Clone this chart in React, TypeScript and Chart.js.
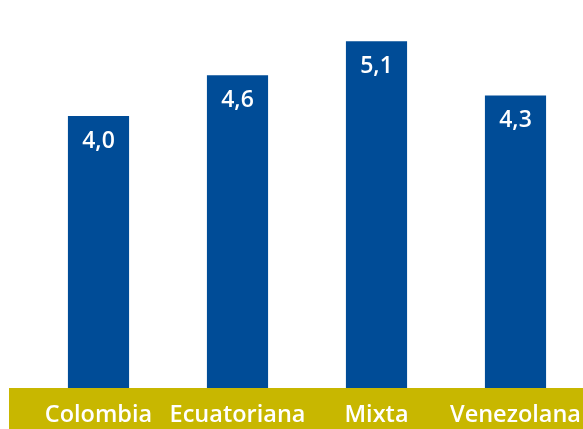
import { useEffect, useRef } from "react";
import { Chart, registerables } from "chart.js";

Chart.register(...registerables);

const categories = ["Colombia", "Ecuatoriana", "Mixta", "Venezolana"];
const values = [4.0, 4.6, 5.1, 4.3];

const BLUE = "#004c97";
const BAND = "#c8b700";

// franja amarilla detrás de las etiquetas del eje x
const bandPlugin = {
  id: "band",
  beforeDraw(chart: Chart) {
    const { ctx, chartArea, width, height } = chart;
    ctx.save();
    ctx.fillStyle = BAND;
    ctx.fillRect(9, chartArea.bottom, width - 9, height - chartArea.bottom);
    ctx.restore();
  },
};

// valores en blanco dentro de cada barra
const valuePlugin = {
  id: "values",
  afterDatasetsDraw(chart: Chart) {
    const { ctx } = chart;
    const meta = chart.getDatasetMeta(0);
    ctx.save();
    ctx.fillStyle = "#ffffff";
    ctx.font = "600 23px 'Open Sans'";
    ctx.textAlign = "center";
    ctx.textBaseline = "middle";
    meta.data.forEach((bar: any, i: number) => {
      const txt = values[i].toFixed(1).replace(".", ",");
      ctx.fillText(txt, bar.x, bar.y + 25);
    });
    ctx.restore();
  },
};

export default function App() {
  const chartRef = useRef<HTMLCanvasElement>(null);
  const chartInstance = useRef<Chart | null>(null);

  useEffect(() => {
    if (!chartRef.current) return;
    if (chartInstance.current) chartInstance.current.destroy();

    chartInstance.current = new Chart(chartRef.current, {
      type: "bar",
      data: {
        labels: categories,
        datasets: [
          {
            data: values,
            backgroundColor: BLUE,
            borderWidth: 0,
            categoryPercentage: 1,
            barPercentage: 0.44,
          },
        ],
      },
      options: {
        animation: false,
        responsive: true,
        maintainAspectRatio: false,
        layout: { padding: { left: 29, right: 15, top: 14, bottom: 0 } },
        plugins: {
          legend: { display: false },
          tooltip: { enabled: false },
        },
        scales: {
          x: {
            grid: { display: false, drawTicks: false },
            border: { display: false },
            ticks: {
              color: "#ffffff",
              padding: 13,
              maxRotation: 0,
              autoSkip: false,
              font: { family: "'Open Sans'", size: 23.5, weight: 600 },
            },
            afterFit(axis: any) {
              axis.height = 41;
            },
          },
          y: {
            display: false,
            min: 0,
            max: 5.5,
          },
        },
      },
      plugins: [bandPlugin, valuePlugin],
    });

    return () => {
      if (chartInstance.current) {
        chartInstance.current.destroy();
        chartInstance.current = null;
      }
    };
  }, []);

  return (
    <div
      style={{
        position: "fixed",
        left: 0,
        top: 0,
        width: 583,
        height: 429,
        overflow: "hidden",
        background: "#ffffff",
      }}
    >
      <div style={{ position: "relative", width: 600, height: 429 }}>
        <canvas ref={chartRef}></canvas>
      </div>
    </div>
  );
}
